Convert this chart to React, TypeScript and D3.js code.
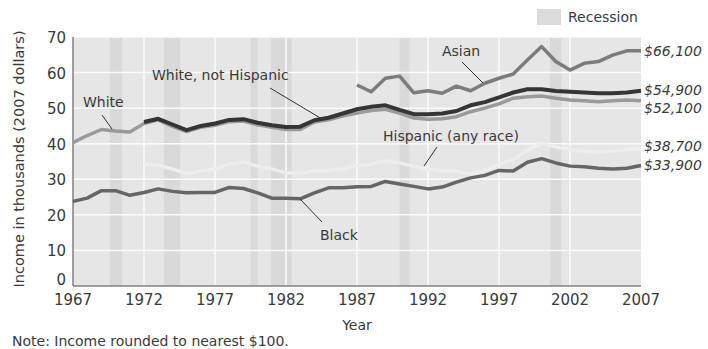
import React from "react";
import * as d3 from "d3";

// ---------- data ----------
const yearsAll = [1967, 1968, 1969, 1970, 1971, 1972, 1973, 1974, 1975, 1976, 1977, 1978, 1979, 1980, 1981, 1982, 1983, 1984, 1985, 1986, 1987, 1988, 1989, 1990, 1991, 1992, 1993, 1994, 1995, 1996, 1997, 1998, 1999, 2000, 2001, 2002, 2003, 2004, 2005, 2006, 2007];

const blackValues = [23.8, 24.7, 26.8, 26.8, 25.5, 26.3, 27.3, 26.6, 26.2, 26.3, 26.3, 27.7, 27.4, 26.2, 24.7, 24.7, 24.5, 26.2, 27.6, 27.6, 27.9, 28.0, 29.4, 28.7, 28.0, 27.3, 27.8, 29.2, 30.4, 31.1, 32.5, 32.3, 34.8, 35.8, 34.6, 33.7, 33.5, 33.1, 32.9, 33.1, 33.9];
const whiteValues = [40.3, 42.3, 44.0, 43.6, 43.3, 45.7, 46.7, 44.9, 43.4, 44.6, 45.2, 46.2, 46.4, 45.3, 44.6, 44.0, 44.0, 46.1, 46.7, 47.8, 48.6, 49.3, 49.7, 48.6, 47.2, 46.9, 47.0, 47.6, 49.0, 50.0, 51.2, 52.8, 53.2, 53.4, 52.8, 52.3, 52.1, 51.8, 52.1, 52.3, 52.1];
const whiteNHStart = 1972;
const whiteNHValues = [46.1, 47.0, 45.4, 43.8, 45.0, 45.7, 46.7, 46.9, 45.9, 45.2, 44.7, 44.8, 46.6, 47.3, 48.5, 49.7, 50.4, 50.8, 49.5, 48.3, 48.3, 48.5, 49.2, 50.8, 51.7, 53.0, 54.4, 55.3, 55.3, 54.8, 54.6, 54.4, 54.2, 54.2, 54.4, 54.9];
const hispanicStart = 1972;
const hispanicValues = [34.2, 34.0, 32.9, 31.6, 32.3, 32.9, 34.2, 34.9, 33.7, 32.9, 31.8, 31.8, 32.3, 32.5, 33.0, 33.9, 34.2, 35.3, 34.6, 33.7, 32.9, 32.3, 32.3, 31.5, 32.5, 34.2, 35.6, 38.2, 40.1, 39.1, 38.4, 37.9, 37.6, 37.9, 38.4, 38.7];
const asianStart = 1987;
const asianValues = [56.5, 54.6, 58.4, 59.0, 54.3, 54.9, 54.2, 56.2, 54.9, 57.0, 58.4, 59.6, 63.5, 67.3, 63.1, 60.7, 62.6, 63.1, 64.9, 66.1, 66.1];

const recessions: [number, number][] = [
  [1969.6, 1970.45],
  [1973.4, 1974.55],
  [1979.5, 1980.0],
  [1980.95, 1982.4],
  [1990.0, 1990.7],
  [2000.6, 2001.4],
];

const yTicks = [0, 10, 20, 30, 40, 50, 60, 70];
const xTicks = [1967, 1972, 1977, 1982, 1987, 1992, 1997, 2002, 2007];
const endLabels = ["$66,100", "$54,900", "$52,100", "$38,700", "$33,900"];
const endValues = [66.1, 54.9, 52.1, 38.7, 33.9];

// ---------- layout ----------
const W = 708;
const H = 349;
const X0 = 73;
const X1 = 641;
const Y0 = 286;
const Y1 = 37;
const FONT = "'DejaVu Sans', Verdana, sans-serif";
const TEXT = "#3a3a3a";
const endLabelOffsets = [0, -1, 7, -2, 0];

const x = d3.scaleLinear().domain([1967, 2007]).range([X0, X1]);
const y = d3.scaleLinear().domain([0, 70]).range([Y0, Y1]);

type Pt = [number, number];
const toPts = (start: number, vals: number[]): Pt[] => vals.map((v, i) => [yearsAll[yearsAll.indexOf(start) + i], v]);
const line = d3
  .line<Pt>()
  .x((d) => x(d[0]))
  .y((d) => y(d[1]))
  .curve(d3.curveLinear);

const series = [
  { name: "Hispanic", pts: toPts(hispanicStart, hispanicValues), color: "#ededed", w: 3.5 },
  { name: "Black", pts: toPts(1967, blackValues), color: "#666666", w: 3.5 },
  { name: "White", pts: toPts(1967, whiteValues), color: "#9a9a9a", w: 3.5 },
  { name: "WhiteNH", pts: toPts(whiteNHStart, whiteNHValues), color: "#353535", w: 4 },
  { name: "Asian", pts: toPts(asianStart, asianValues), color: "#7c7c7c", w: 3.5 },
];

const annotations = [
  { text: "White", tx: 83, ty: 107, l: [102, 115, 112, 129] },
  { text: "White, not Hispanic", tx: 152, ty: 80, l: [270, 88, 322, 119] },
  { text: "Asian", tx: 442, ty: 56, l: [462, 62, 483, 83] },
  { text: "Hispanic (any race)", tx: 383, ty: 141, l: [437, 147, 424, 166] },
  { text: "Black", tx: 320, ty: 240, l: [300, 199, 322, 222] },
];

export default function App() {
  return (
    <div style={{ position: "fixed", left: 0, top: 0, width: W, height: H, background: "#fff" }}>
      <svg width={W} height={H} style={{ display: "block" }} fontFamily={FONT}>
        <rect x={0} y={0} width={W} height={H} fill="#fff" />
        {/* plot bg */}
        <rect x={X0} y={Y1} width={X1 - X0} height={Y0 - Y1} fill="#e6e6e6" />
        {recessions.map(([a, b], i) => (
          <rect key={i} x={x(a)} y={Y1} width={x(b) - x(a)} height={Y0 - Y1} fill="#d9d9d9" />
        ))}
        {/* grid */}
        {yTicks.filter((t) => t > 0).map((t) => (
          <line key={t} x1={X0} x2={X1} y1={y(t)} y2={y(t)} stroke="#fbfbfb" strokeWidth={1.5} />
        ))}
        {xTicks.filter((t) => t > 1967 && t < 2007).map((t) => (
          <line key={t} x1={x(t)} x2={x(t)} y1={Y1} y2={Y0} stroke="#fbfbfb" strokeWidth={1.5} />
        ))}
        {/* axes */}
        <line x1={X0} x2={X0} y1={Y1} y2={Y0} stroke="#808080" strokeWidth={1.5} />
        <line x1={X0} x2={X1} y1={Y0} y2={Y0} stroke="#808080" strokeWidth={1.5} />
        {yTicks.map((t) => (
          <text key={t} x={66} y={y(t) + (t === 0 ? -1 : 6)} textAnchor="end" fontSize={15} fill={TEXT}>
            {t}
          </text>
        ))}
        {xTicks.map((t) => (
          <text key={t} x={x(t)} y={305} textAnchor="middle" fontSize={15} fill={TEXT}>
            {t}
          </text>
        ))}
        <text x={(X0 + X1) / 2} y={330} textAnchor="middle" fontSize={14} fill={TEXT}>
          Year
        </text>
        <text
          transform={`translate(24, ${159}) rotate(-90)`}
          textAnchor="middle"
          fontSize={14.5}
          fill={TEXT}
        >
          Income in thousands (2007 dollars)
        </text>
        <text x={12} y={346} fontSize={14} fill={TEXT}>
          Note: Income rounded to nearest $100.
        </text>
        {/* lines */}
        {series.map((s) => (
          <path
            key={s.name}
            d={line(s.pts) || ""}
            fill="none"
            stroke={s.color}
            strokeWidth={s.w}
            strokeLinejoin="round"
            strokeLinecap="butt"
          />
        ))}
        {/* annotations */}
        {annotations.map((a) => (
          <g key={a.text}>
            <line x1={a.l[0]} y1={a.l[1]} x2={a.l[2]} y2={a.l[3]} stroke="#333" strokeWidth={1} />
            <text x={a.tx} y={a.ty} fontSize={14} fill={TEXT}>
              {a.text}
            </text>
          </g>
        ))}
        {/* end labels */}
        {endLabels.map((t, i) => (
          <text key={t} x={644} y={y(endValues[i]) + endLabelOffsets[i] + 5} fontSize={14} fontStyle="italic" fill={TEXT}>
            {t}
          </text>
        ))}
        {/* legend */}
        <rect x={537} y={9} width={24} height={16} fill="#dcdcdc" />
        <text x={568} y={22} fontSize={14} fill={TEXT}>
          Recession
        </text>
      </svg>
    </div>
  );
}
